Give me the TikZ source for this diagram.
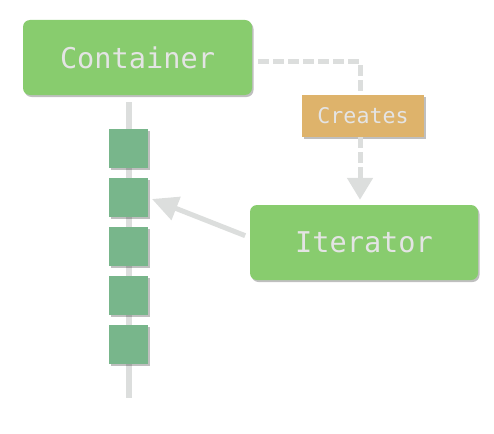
\documentclass[tikz,border=0pt]{standalone}
\usepackage{fontspec}
\setmonofont{DejaVu Sans Mono}
\usetikzlibrary{arrows.meta, shadows, positioning}
\definecolor{boxgreen}{HTML}{88CC6E}
\definecolor{elemgreen}{HTML}{78B68B}
\definecolor{labelorange}{HTML}{DEB36B}
\definecolor{linegray}{HTML}{DCDEDD}
\definecolor{textlight}{HTML}{E4E4E4}
\tikzset{
  shade/.style={drop shadow={shadow xshift=1.5pt, shadow yshift=-2pt, opacity=0.25, fill=black}},
  bigbox/.style={shade, fill=boxgreen, rounded corners=7pt, minimum width=229pt, minimum height=75pt,
    text=textlight, font=\ttfamily\fontsize{28.6}{30}\selectfont},
  tagbox/.style={shade, fill=labelorange, minimum width=122pt, minimum height=42pt,
    text=textlight, font=\ttfamily\fontsize{21.6}{24}\selectfont},
  elem/.style={shade, fill=elemgreen, minimum size=39pt, inner sep=0pt},
  link/.style={draw=linegray, line width=5pt},
}
\begin{document}
\begin{tikzpicture}[x=1pt, y=-1pt]
  \useasboundingbox (0,0) rectangle (494,433);
  % container and iterator
  \node[bigbox] (container) at (137.5,57.5) {Container};
  \node[bigbox, minimum width=228pt] (iterator) at (364,242.5) {Iterator};
  \node[tagbox] (creates) at (363,116) {Creates};

  % the sequence of elements
  \coordinate (seqtop) at (128.5,102);
  \coordinate (seqbottom) at (128.5,398);
  \draw[link, line width=6pt] (seqtop) -- (seqbottom);
  \foreach \i in {1,...,5}
    \node[elem] (e\i) at (128.5,{148.5+49*(\i-1)}) {};

  % creation and iteration
  \draw[link, dash pattern=on 11pt off 4pt, shorten <=6pt]
    ([yshift=-4.5pt]container.east) -| ([xshift=-3pt]creates.north);
  \draw[link, dash pattern=on 11pt off 4pt, -{Triangle[width=25pt, length=22pt]}, shorten >=5pt]
    ([xshift=-3pt]creates.south) -- ([xshift=-4pt]iterator.north);
  \draw[link, -{Triangle[width=24pt, length=26pt]}, shorten <=5pt, shorten >=4pt]
    ([yshift=5pt]iterator.west) -- (e2.east);
\end{tikzpicture}
\end{document}
